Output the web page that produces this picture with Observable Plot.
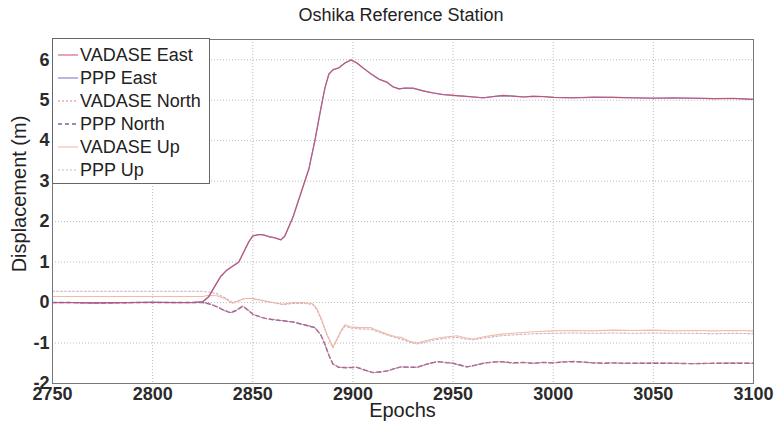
<!DOCTYPE html>
<html>
<head>
<meta charset="utf-8">
<script src="https://cdn.jsdelivr.net/npm/d3@7"></script>
<script src="https://cdn.jsdelivr.net/npm/@observablehq/plot@0.6"></script>
<style>
  html, body { margin: 0; padding: 0; background: #fff; }
  #wrap { position: relative; width: 775px; height: 426px; font-family: "Liberation Sans", Arial, sans-serif; color: #222; }
  #title { position: absolute; left: 0; width: 802px; top: 5px; text-align: center; font-size: 18px; color: #222; }
  #xlabel { position: absolute; left: 52px; width: 701px; top: 399px; text-align: center; font-size: 20px; }
  #ylabel { position: absolute; left: 19px; top: 194px; font-size: 20px; transform: translate(-50%, -50%) rotate(-90deg); white-space: nowrap; }
  #legend { position: absolute; left: 52px; top: 38px; width: 158px; height: 146px; border: 1px solid #666; background: #fff; box-sizing: border-box; }
  .entry { position: absolute; left: 4px; height: 22px; display: flex; align-items: center; font-size: 18px; color: #222; white-space: nowrap; }
  .entry svg { margin-right: 1px; }
</style>
</head>
<body>
<div id="wrap">
  <div id="chart"></div>
  <div id="title">Oshika Reference Station</div>
  <div id="xlabel">Epochs</div>
  <div id="ylabel">Displacement (m)</div>
  <div id="legend"></div>
</div>
<script>
// ---- data ----
const eastEpochs = [2750,2760,2770,2780,2790,2800,2810,2820,2825,2828,2831,2834,2837,2840,2843,2845,2848,2850,2853,2855,2858,2861,2864,2866,2870,2874,2878,2881,2884,2886,2888,2890,2893,2896,2899,2902,2905,2909,2913,2917,2920,2923,2926,2930,2935,2940,2945,2950,2955,2960,2965,2970,2975,2980,2985,2990,2995,3000,3010,3020,3030,3040,3050,3060,3070,3080,3090,3100];
const vadaseEast = [0,0,-0.01,0,0,0,0,0,0.02,0.15,0.4,0.65,0.8,0.9,1.0,1.2,1.5,1.65,1.68,1.68,1.63,1.6,1.55,1.65,2.1,2.7,3.3,4.0,4.8,5.3,5.65,5.75,5.8,5.92,6.0,5.92,5.8,5.65,5.52,5.45,5.33,5.28,5.3,5.3,5.23,5.18,5.14,5.12,5.1,5.08,5.06,5.09,5.12,5.1,5.08,5.1,5.09,5.07,5.06,5.08,5.07,5.06,5.05,5.06,5.05,5.04,5.05,5.02];
const pppEast    = [0,0,0,0,0,0.01,0,0,0.02,0.14,0.4,0.64,0.8,0.9,1.0,1.2,1.5,1.64,1.68,1.67,1.63,1.6,1.55,1.64,2.1,2.7,3.3,4.0,4.8,5.3,5.64,5.75,5.8,5.92,5.99,5.92,5.8,5.65,5.52,5.44,5.33,5.28,5.3,5.29,5.23,5.18,5.14,5.12,5.1,5.08,5.06,5.09,5.11,5.1,5.08,5.09,5.09,5.07,5.06,5.07,5.07,5.06,5.05,5.05,5.05,5.04,5.04,5.02];

const northEpochs = [2750,2760,2770,2780,2790,2800,2810,2820,2825,2828,2832,2836,2839,2842,2845,2848,2850,2854,2857,2861,2865,2870,2874,2878,2881,2884,2886,2888,2890,2893,2897,2902,2906,2910,2914,2917,2921,2924,2928,2932,2937,2942,2946,2950,2954,2957,2961,2965,2970,2974,2980,2985,2990,2995,3000,3005,3010,3015,3020,3025,3030,3035,3040,3050,3060,3070,3080,3090,3100];
const vadaseNorth = [0,0,-0.01,-0.01,0,0,0,0,0,-0.02,-0.1,-0.2,-0.25,-0.18,-0.08,-0.2,-0.29,-0.36,-0.4,-0.42,-0.45,-0.48,-0.53,-0.57,-0.62,-0.8,-1.03,-1.3,-1.52,-1.6,-1.6,-1.6,-1.67,-1.73,-1.72,-1.69,-1.63,-1.59,-1.6,-1.6,-1.52,-1.46,-1.48,-1.5,-1.56,-1.59,-1.55,-1.5,-1.47,-1.46,-1.5,-1.48,-1.5,-1.48,-1.49,-1.46,-1.45,-1.47,-1.49,-1.5,-1.49,-1.5,-1.5,-1.49,-1.5,-1.51,-1.5,-1.49,-1.5];
const pppNorth    = [0,0,-0.01,-0.01,0,0,0,0,0,-0.03,-0.1,-0.2,-0.25,-0.19,-0.09,-0.2,-0.29,-0.36,-0.4,-0.43,-0.45,-0.48,-0.53,-0.58,-0.62,-0.8,-1.03,-1.3,-1.52,-1.6,-1.61,-1.6,-1.67,-1.73,-1.71,-1.69,-1.63,-1.59,-1.6,-1.6,-1.52,-1.46,-1.48,-1.5,-1.55,-1.59,-1.55,-1.5,-1.47,-1.46,-1.49,-1.48,-1.5,-1.48,-1.49,-1.47,-1.46,-1.47,-1.49,-1.5,-1.49,-1.5,-1.5,-1.5,-1.5,-1.51,-1.5,-1.5,-1.5];

const upEpochs = [2750,2770,2790,2810,2825,2828,2832,2836,2840,2843,2846,2850,2855,2860,2865,2870,2875,2880,2882,2884,2887,2890,2892,2894,2896,2899,2903,2909,2913,2917,2921,2924,2928,2932,2936,2940,2946,2952,2956,2960,2966,2974,2980,2990,3000,3010,3020,3030,3040,3050,3060,3070,3080,3090,3100];
const vadaseUp = [0.15,0.15,0.15,0.15,0.15,0.18,0.17,0.1,-0.02,0.05,0.1,0.1,0.05,0.0,-0.04,0.0,0.0,-0.03,-0.15,-0.37,-0.78,-1.1,-0.9,-0.7,-0.55,-0.6,-0.62,-0.62,-0.7,-0.78,-0.84,-0.86,-0.95,-1.0,-0.95,-0.9,-0.85,-0.82,-0.87,-0.9,-0.84,-0.78,-0.76,-0.72,-0.7,-0.69,-0.7,-0.68,-0.69,-0.68,-0.7,-0.69,-0.7,-0.69,-0.7];
const pppUp    = [0.28,0.28,0.28,0.28,0.28,0.26,0.22,0.12,0.0,0.04,0.1,0.1,0.04,0.0,-0.05,-0.02,-0.02,-0.05,-0.18,-0.4,-0.8,-1.12,-0.92,-0.72,-0.58,-0.63,-0.65,-0.66,-0.73,-0.8,-0.86,-0.9,-0.97,-1.02,-0.98,-0.93,-0.88,-0.86,-0.9,-0.92,-0.87,-0.82,-0.8,-0.77,-0.76,-0.75,-0.76,-0.75,-0.76,-0.75,-0.76,-0.76,-0.77,-0.76,-0.77];

const xTicks = [2750,2800,2850,2900,2950,3000,3050,3100];
const yTicks = [-2,-1,0,1,2,3,4,5,6];

const seriesNames = ["VADASE East","PPP East","VADASE North","PPP North","VADASE Up","PPP Up"];
const seriesStyle = {
  "VADASE East":  {stroke: "#c8506a", width: 1.1, dash: null, opacity: 0.9},
  "PPP East":     {stroke: "#7f78cf", width: 1.3, dash: null, opacity: 0.85},
  "VADASE North": {stroke: "#e0707e", width: 1.1, dash: "2,2", opacity: 0.9},
  "PPP North":    {stroke: "#5a4f98", width: 1.4, dash: "4,3", opacity: 0.85},
  "VADASE Up":    {stroke: "#f2b49c", width: 1.1, dash: null, opacity: 0.9},
  "PPP Up":       {stroke: "#c9a9bd", width: 1.1, dash: "2,2", opacity: 0.9}
};

function rows(name, xs, ys) { return xs.map((x, i) => ({series: name, epoch: x, value: ys[i]})); }
const tables = {
  "VADASE East": rows("VADASE East", eastEpochs, vadaseEast),
  "PPP East": rows("PPP East", eastEpochs, pppEast),
  "VADASE North": rows("VADASE North", northEpochs, vadaseNorth),
  "PPP North": rows("PPP North", northEpochs, pppNorth),
  "VADASE Up": rows("VADASE Up", upEpochs, vadaseUp),
  "PPP Up": rows("PPP Up", upEpochs, pppUp)
};
const drawOrder = ["PPP Up","VADASE Up","PPP North","VADASE North","PPP East","VADASE East"];

const lineMarks = drawOrder.map(n => Plot.lineY(tables[n], {
  x: "epoch", y: "value",
  stroke: seriesStyle[n].stroke,
  strokeWidth: seriesStyle[n].width,
  strokeDasharray: seriesStyle[n].dash,
  strokeOpacity: seriesStyle[n].opacity
}));

const fmt = d => String(d);
const chart = Plot.plot({
  width: 775, height: 426,
  marginLeft: 52, marginRight: 22, marginTop: 39, marginBottom: 43,
  style: {fontFamily: "'Liberation Sans', Arial, sans-serif", fontSize: "18px", color: "#222", background: "#fff"},
  x: {domain: [2750, 3100]},
  y: {domain: [-2, 6.5]},
  marks: [
    Plot.gridX(xTicks, {stroke: "#bbb", strokeOpacity: 1, strokeDasharray: "1,2"}),
    Plot.gridY(yTicks, {stroke: "#bbb", strokeOpacity: 1, strokeDasharray: "1,2"}),
    ...lineMarks,
    Plot.frame({stroke: "#777"}),
    Plot.axisX(xTicks, {tickSize: 0, tickPadding: 4, label: null, tickFormat: fmt, fill: "#2a2a2a", fontSize: 18, fontWeight: "bold"}),
    Plot.axisY(yTicks, {tickSize: 0, tickPadding: 3, label: null, tickFormat: fmt, fill: "#2a2a2a", fontSize: 18, fontWeight: "bold"})
  ]
});
document.getElementById("chart").appendChild(chart);

// legend
const legend = document.getElementById("legend");
seriesNames.forEach((n, i) => {
  const s = seriesStyle[n];
  const e = document.createElement("div");
  e.className = "entry";
  e.style.top = (5 + i * 23) + "px";
  e.innerHTML = `<svg width="22" height="10"><line x1="1" y1="5" x2="21" y2="5" stroke="${s.stroke}" stroke-width="${s.width}" ${s.dash ? `stroke-dasharray="${s.dash}"` : ""} stroke-opacity="${s.opacity}"/></svg><span>${n}</span>`;
  legend.appendChild(e);
});
</script>
</body>
</html>
